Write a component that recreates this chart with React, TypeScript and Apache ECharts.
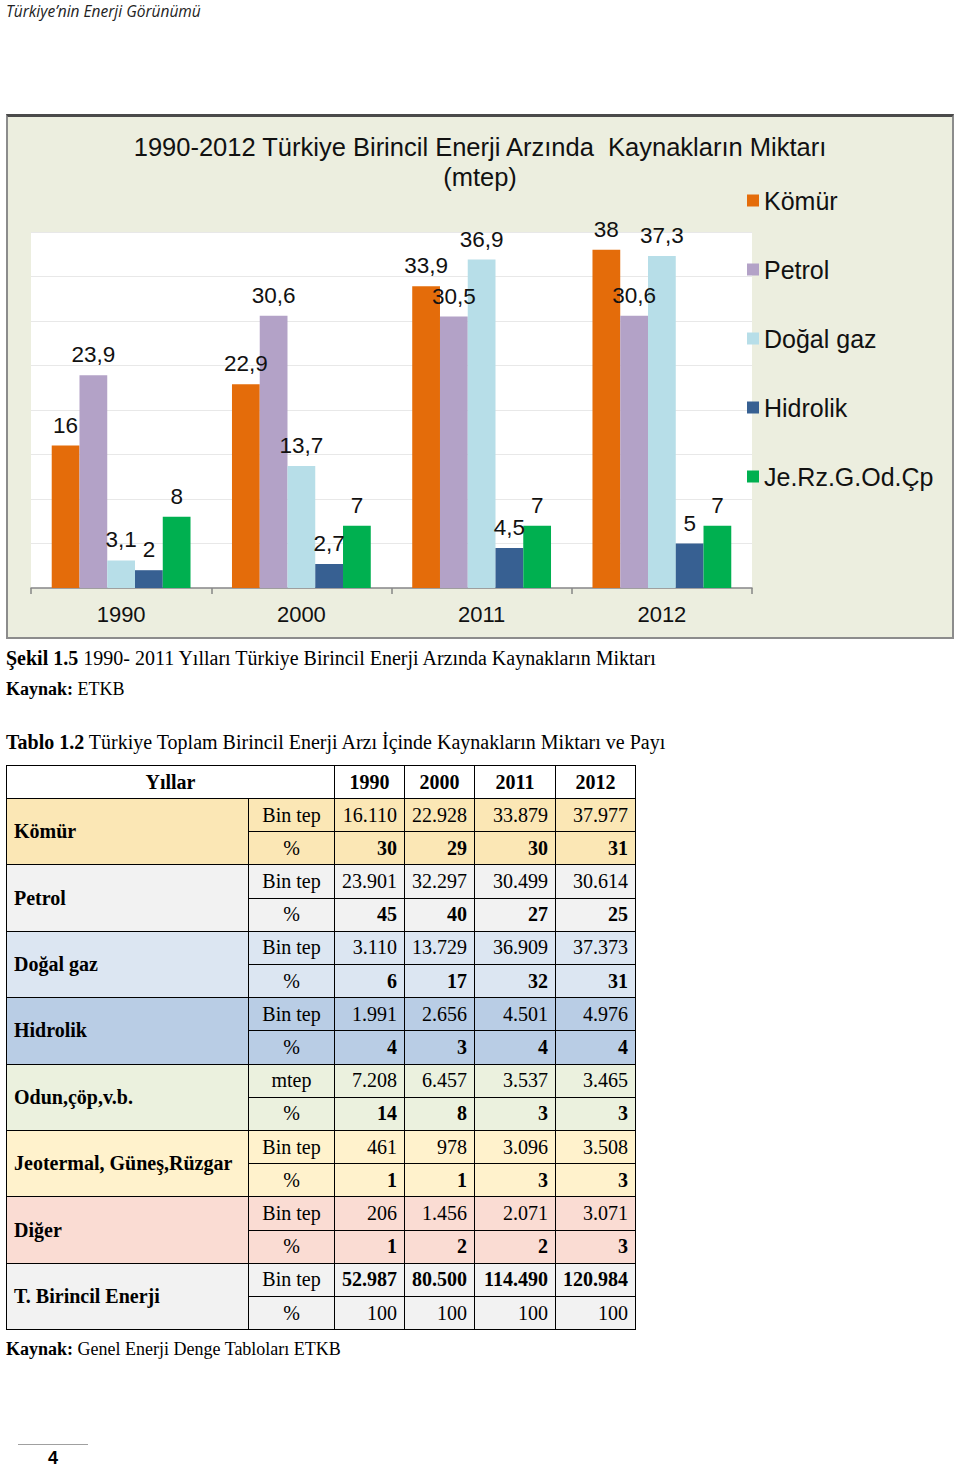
import React, { useEffect, useRef } from "react";
import * as echarts from "echarts";

// ---- chart data ----
const years = ["1990", "2000", "2011", "2012"];
const seriesNames = ["Kömür", "Petrol", "Doğal gaz", "Hidrolik", "Je.Rz.G.Od.Çp"];
const komur = [16, 22.9, 33.9, 38];
const petrol = [23.9, 30.6, 30.5, 30.6];
const dogalGaz = [3.1, 13.7, 36.9, 37.3];
const hidrolik = [2, 2.7, 4.5, 5];
const jeRzGOdCp = [8, 7, 7, 7];
const seriesValues = [komur, petrol, dogalGaz, hidrolik, jeRzGOdCp];
const seriesColors = ["#E46C0A", "#B3A2C7", "#B7DEE8", "#376092", "#00B050"];

// ---- table data ----
const tableYears = ["1990", "2000", "2011", "2012"];
const tableLabels = [
  "Kömür",
  "Petrol",
  "Doğal gaz",
  "Hidrolik",
  "Odun,çöp,v.b.",
  "Jeotermal, Güneş,Rüzgar",
  "Diğer",
  "T. Birincil Enerji",
];
const tableUnits = ["Bin tep", "Bin tep", "Bin tep", "Bin tep", "mtep", "Bin tep", "Bin tep", "Bin tep"];
const tableAmounts = [
  ["16.110", "22.928", "33.879", "37.977"],
  ["23.901", "32.297", "30.499", "30.614"],
  ["3.110", "13.729", "36.909", "37.373"],
  ["1.991", "2.656", "4.501", "4.976"],
  ["7.208", "6.457", "3.537", "3.465"],
  ["461", "978", "3.096", "3.508"],
  ["206", "1.456", "2.071", "3.071"],
  ["52.987", "80.500", "114.490", "120.984"],
];
const tableShares = [
  ["30", "29", "30", "31"],
  ["45", "40", "27", "25"],
  ["6", "17", "32", "31"],
  ["4", "3", "4", "4"],
  ["14", "8", "3", "3"],
  ["1", "1", "3", "3"],
  ["1", "2", "2", "3"],
  ["100", "100", "100", "100"],
];
const rowColors = ["#FBE7B5", "#F2F2F2", "#DCE6F2", "#B9CDE5", "#EBF1DE", "#FFF2CC", "#FADCD3", "#F2F2F2"];

const colX = [6, 248, 334, 404, 474, 555, 635];
const headerTop = 765;
const headerH = 33;
const rowH = 33.2;

const serif = "'Liberation Serif', 'Times New Roman', serif";
const sans = "'Liberation Sans', Arial, sans-serif";

function Chart() {
  const ref = useRef<HTMLDivElement>(null);
  useEffect(() => {
    if (!ref.current) return;
    const chart = echarts.init(ref.current, undefined, { renderer: "svg" });
    chart.setOption({
      animation: false,
      title: {
        text: "1990-2012 Türkiye Birincil Enerji Arzında  Kaynakların Miktarı\n(mtep)",
        left: "center",
        top: 132,
        padding: 0,
        textStyle: {
          fontFamily: sans,
          fontSize: 25.5,
          fontWeight: "normal",
          color: "#111",
          lineHeight: 30,
        },
      },
      legend: {
        data: seriesNames,
        orient: "vertical",
        left: 747,
        top: 188,
        padding: 0,
        icon: "rect",
        itemWidth: 12,
        itemHeight: 12,
        itemGap: 44,
        textStyle: { fontFamily: sans, fontSize: 25, lineHeight: 25, color: "#111" },
      },
      grid: {
        left: 31,
        top: 232,
        width: 721,
        height: 356,
        show: true,
        backgroundColor: "#FFFFFF",
        borderWidth: 0,
      },
      xAxis: {
        type: "category",
        data: years,
        axisLine: { lineStyle: { color: "#868686", width: 1.5 } },
        axisTick: { show: true, length: 6, lineStyle: { color: "#868686", width: 1.5 } },
        axisLabel: { fontFamily: sans, fontSize: 22, color: "#111", margin: 15 },
      },
      yAxis: {
        type: "value",
        min: 0,
        max: 40,
        interval: 5,
        axisLabel: { show: false },
        axisLine: { show: false },
        axisTick: { show: false },
        splitLine: { lineStyle: { color: "#E8E8E8", width: 1 } },
      },
      series: seriesNames.map((name, i) => ({
        name,
        type: "bar",
        data: seriesValues[i],
        barGap: "0%",
        barCategoryGap: "23%",
        itemStyle: { color: seriesColors[i] },
        label: {
          show: true,
          position: "top",
          distance: 9,
          fontFamily: sans,
          fontSize: 22.5,
          color: "#111",
          formatter: (p: any) => String(p.value).replace(".", ","),
        },
      })),
    });
    return () => chart.dispose();
  }, []);
  return (
    <div
      ref={ref}
      style={{ position: "absolute", left: 0, top: 0, width: 960, height: 650 }}
    />
  );
}

function Table() {
  const cells: React.ReactNode[] = [];
  const cell = (
    key: string,
    x0: number,
    x1: number,
    y0: number,
    y1: number,
    content: React.ReactNode,
    opts: { bg?: string; align?: string; bold?: boolean }
  ) => {
    cells.push(
      <div
        key={key}
        style={{
          position: "absolute",
          left: x0,
          top: y0,
          width: x1 - x0 + 1,
          height: y1 - y0 + 1,
          boxSizing: "border-box",
          border: "1px solid #000",
          background: opts.bg || "#fff",
          display: "flex",
          alignItems: "center",
          justifyContent:
            opts.align === "left" ? "flex-start" : opts.align === "right" ? "flex-end" : "center",
          paddingLeft: opts.align === "left" ? 7 : 0,
          paddingRight: opts.align === "right" ? 7 : 0,
          fontFamily: serif,
          fontSize: 20,
          fontWeight: opts.bold ? "bold" : "normal",
          color: "#000",
          whiteSpace: "nowrap",
        }}
      >
        {content}
      </div>
    );
  };
  // header
  cell("h0", colX[0], colX[2], headerTop, headerTop + headerH, "Yıllar", { bold: true });
  tableYears.forEach((y, j) => {
    cell("hy" + j, colX[j + 2], colX[j + 3], headerTop, headerTop + headerH, y, { bold: true });
  });
  const bodyTop = headerTop + headerH;
  tableLabels.forEach((label, k) => {
    const yA = bodyTop + 2 * k * rowH;
    const yB = yA + rowH;
    const yC = yB + rowH;
    const bg = rowColors[k];
    const isTotal = k === tableLabels.length - 1;
    cell("l" + k, colX[0], colX[1], yA, yC, label, { bg, align: "left", bold: true });
    cell("ua" + k, colX[1], colX[2], yA, yB, tableUnits[k], { bg });
    cell("ub" + k, colX[1], colX[2], yB, yC, "%", { bg });
    tableAmounts[k].forEach((v, j) => {
      cell("a" + k + "_" + j, colX[j + 2], colX[j + 3], yA, yB, v, { bg, align: "right", bold: isTotal });
    });
    tableShares[k].forEach((v, j) => {
      cell("s" + k + "_" + j, colX[j + 2], colX[j + 3], yB, yC, v, { bg, align: "right", bold: !isTotal });
    });
  });
  return <>{cells}</>;
}

export default function App() {
  useEffect(() => {
    document.body.style.margin = "0";
  }, []);
  const textLine = (top: number, size: number, children: React.ReactNode) => (
    <div
      style={{
        position: "absolute",
        left: 6,
        top,
        fontFamily: serif,
        fontSize: size,
        lineHeight: "22px",
        color: "#000",
        whiteSpace: "nowrap",
      }}
    >
      {children}
    </div>
  );
  return (
    <div style={{ position: "relative", width: 960, height: 1468, background: "#fff", overflow: "hidden" }}>
      <div
        style={{
          position: "absolute",
          left: 6,
          top: 0,
          fontFamily: "'Open Sans', sans-serif",
          fontStyle: "italic",
          fontSize: 15.5,
          lineHeight: "22px",
          color: "#222",
          whiteSpace: "nowrap",
        }}
      >
        Türkiye’nin Enerji Görünümü
      </div>
      <div
        style={{
          position: "absolute",
          left: 6,
          top: 114,
          width: 948,
          height: 525,
          boxSizing: "border-box",
          background: "#ECEEDF",
          borderLeft: "2px solid #8C8C8C",
          borderRight: "2px solid #8C8C8C",
          borderBottom: "2px solid #8C8C8C",
          borderTop: "3px solid #4A4A4A",
        }}
      />
      <Chart />
      {textLine(647, 20, (
        <>
          <b>Şekil 1.5</b> 1990- 2011 Yılları Türkiye Birincil Enerji Arzında Kaynakların Miktarı
        </>
      ))}
      {textLine(678, 18, (
        <>
          <b>Kaynak:</b> ETKB
        </>
      ))}
      {textLine(731, 20, (
        <>
          <b>Tablo 1.2</b> Türkiye Toplam Birincil Enerji Arzı İçinde Kaynakların Miktarı ve Payı
        </>
      ))}
      <Table />
      {textLine(1338, 18, (
        <>
          <b>Kaynak:</b> Genel Enerji Denge Tabloları ETKB
        </>
      ))}
      <div style={{ position: "absolute", left: 18, top: 1444, width: 70, height: 1, background: "#A0A0A0" }} />
      <div
        style={{
          position: "absolute",
          left: 48,
          top: 1451,
          fontFamily: sans,
          fontWeight: "bold",
          fontSize: 18,
          lineHeight: "15px",
          color: "#000",
        }}
      >
        4
      </div>
    </div>
  );
}
